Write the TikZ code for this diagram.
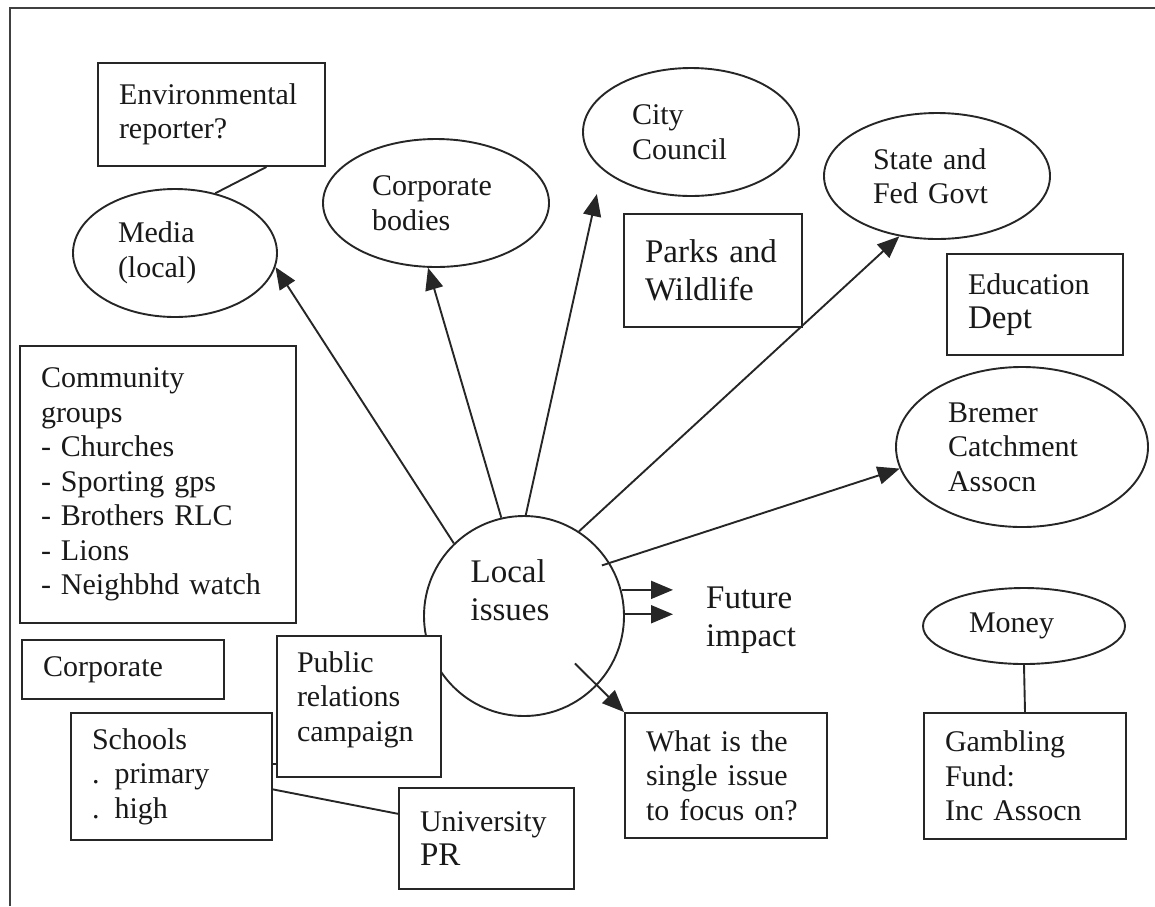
\documentclass[tikz,border=0pt]{standalone}
\usepackage{fontspec}
\setmainfont{Liberation Serif}
\usetikzlibrary{shapes.geometric,arrows.meta,calc}
\newcommand{\bigtxt}{\fontsize{33}{38}\selectfont}
\begin{document}
\begin{tikzpicture}[x=1pt,y=-1pt,
  every node/.style={font=\fontsize{30}{34.5}\selectfont, text=black!90},
  ln/.style={draw=black!85, line width=1.9pt},
  arr/.style={ln, -{Triangle[length=22pt,width=18pt]}},
  box/.style={draw=black!85, line width=1.9pt, fill=white, rectangle, inner xsep=21pt, inner ysep=0pt, align=left},
  ell/.style={draw=black!85, line width=1.9pt, fill=white, ellipse, inner sep=0pt, align=left}]
\useasboundingbox (0,0) rectangle (1155,906);
% frame
\draw[ln, draw=black!75] (10,906) -- (10,8) -- (1155,8);

% central circle
\node[draw=black!85, line width=1.9pt, circle, minimum size=200pt, inner sep=0pt,
  label={[align=left, font=\bigtxt, xshift=-14pt, yshift=26pt]center:Local\\issues}] (li) at (524,616) {};

% ellipses
\node[ell, minimum width=204pt, minimum height=128pt, text width=114pt] (media) at (175,253) {Media\\(local)};
\node[ell, minimum width=226pt, minimum height=128pt, text width=128pt] (corpb) at (436,203) {Corporate\\bodies};
\node[ell, minimum width=216pt, minimum height=128pt, text width=118pt] (city) at (691,132) {City\\Council};
\node[ell, minimum width=226pt, minimum height=126pt, text width=128pt] (state) at (937,176) {State and\\Fed Govt};
\node[ell, minimum width=252pt, minimum height=160pt, text width=148pt] (bremer) at (1022,447) {Bremer\\Catchment\\Assocn};
\node[ell, minimum width=202pt, minimum height=76pt, text width=110pt] (money) at (1024,626) {Money};

% boxes
\node[box, minimum width=227pt, minimum height=103pt, text width=185pt] (env) at (211.5,114.5) {Environmental\\reporter?};
\node[box, minimum width=178pt, minimum height=113pt, text width=136pt, font=\bigtxt] (parks) at (713,270.5) {Parks and\\Wildlife};
\node[box, minimum width=176pt, minimum height=101pt, text width=134pt] (edu) at (1035,304.5) {Education\\{\bigtxt Dept}};
\node[box, minimum width=276pt, minimum height=277pt, text width=234pt] (comm) at (158,484.5) {Community\\groups\\- Churches\\- Sporting gps\\- Brothers RLC\\- Lions\\- Neighbhd watch};
\node[box, minimum width=202pt, minimum height=59pt, text width=160pt] (corp) at (123,669.5) {Corporate};
\node[box, minimum width=164pt, minimum height=141pt, inner xsep=20pt, text width=124pt] (pr) at (359,706.5) {Public\\relations\\campaign\\[-14pt]\mbox{}};
\node[box, minimum width=201pt, minimum height=127pt, text width=159pt] (schools) at (171.5,776.5) {Schools\\. primary\\. high};
\node[box, minimum width=175pt, minimum height=101pt, text width=133pt] (univ) at (486.5,838.5) {University\\{\bigtxt PR}};
\node[box, minimum width=202pt, minimum height=125pt, text width=160pt] (what) at (726,775.5) {What is the\\single issue\\to focus on?};
\node[box, minimum width=202pt, minimum height=126pt, text width=160pt] (gamb) at (1025,776) {Gambling\\Fund:\\Inc Assocn};

% future impact text
\node[anchor=west, inner sep=0pt, align=left, font=\bigtxt] (fut) at (706,620) {Future\\impact};

% connectors
\draw[arr] (li.134) -- (media.-8);
\draw[arr] (li.103) -- (corpb.-97);
\draw[arr, shorten >=25pt] (li.89) -- (city.203);
\draw[arr] (li.57) -- (state.-122);
\draw[arr] ($(li.center)!0.92!(li.33)$) -- (bremer.190);
\draw[arr, shorten >=33pt] (li.15) -- (li.15 -| fut.west);
\draw[arr, shorten >=33pt] (li.1) -- (li.1 -| fut.west);
\draw[arr] ($(li.center)!0.69!(li.-43)$) -- (what.north west);
\draw[ln] ($(env.south west)!0.74!(env.south east)$) -- (media.56);
\draw[ln] (money.south) -- (gamb.north);
\draw[ln] ($(schools.north east)!0.6!(schools.south east)$) -- ($(univ.north west)!0.26!(univ.south west)$);
\coordinate (sp) at ($(schools.north east)!0.4!(schools.south east)$);
\draw[ln] (sp) -- (sp -| pr.west);
\end{tikzpicture}
\end{document}
